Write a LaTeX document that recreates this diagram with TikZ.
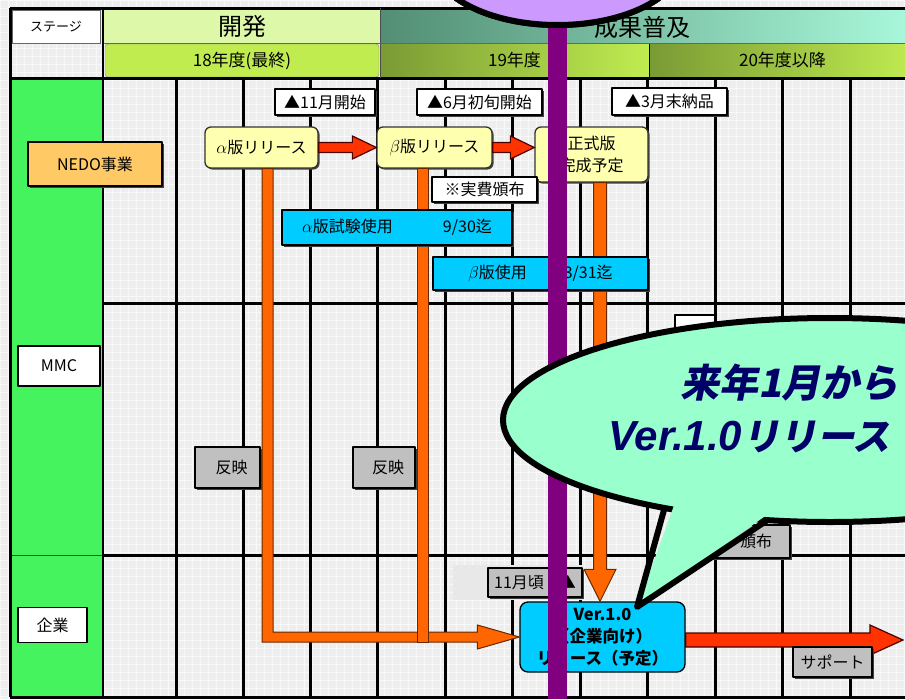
\documentclass[tikz,border=0pt]{standalone}
\usepackage{fontspec}
\setmainfont{Noto Sans CJK JP}
\newfontfamily\jpsl{Noto Sans CJK JP}[FakeSlant=0.2]
\newfontfamily\lsans{Liberation Sans}
\usetikzlibrary{calc,shapes.geometric,shadows}
\definecolor{bgc}{HTML}{EEEEEE}
\definecolor{gridc}{HTML}{F8F8F8}
\definecolor{lgreen}{HTML}{DDF8A8}
\definecolor{ygreen}{HTML}{C0EC50}
\definecolor{olivec}{HTML}{7A9A34}
\definecolor{tealdk}{HTML}{528E74}
\definecolor{mintc}{HTML}{A8F7DA}
\definecolor{colgreen}{HTML}{44F35E}
\definecolor{nedoc}{HTML}{FFC966}
\definecolor{palec}{HTML}{FFFFB0}
\definecolor{cyanc}{HTML}{00CCFF}
\definecolor{orngc}{HTML}{FF6600}
\definecolor{redc}{HTML}{FF3300}
\definecolor{grayc}{HTML}{C0C0C0}
\definecolor{purpc}{HTML}{800080}
\definecolor{lavc}{HTML}{CC99FF}
\definecolor{bubc}{HTML}{99FFCC}
\definecolor{navyc}{HTML}{000068}
\newcommand{\HArrow}[6]{%
  \filldraw[#6] ($#1+(0,-#3)$) -- ($#2+(-#5,-#3)$) -- ($#2+(-#5,-#4)$) -- #2
    -- ($#2+(-#5,#4)$) -- ($#2+(-#5,#3)$) -- ($#1+(0,#3)$) -- cycle;}
\begin{document}
\begin{tikzpicture}[x=1pt,y=-1pt,line join=round,
  f16/.style={font=\fontsize{16}{19}\selectfont},
  shd/.style={drop shadow={shadow xshift=1.5pt,shadow yshift=-1.5pt,fill=black!75,opacity=1}},
  lab/.style={draw=black,line width=1.3pt,inner sep=0pt,f16},
  wlab/.style={lab,fill=white,shd},
  glab/.style={lab,fill=grayc,shd},
  ylab/.style={lab,fill=palec,rounded corners=6pt,draw=black!80,shd},
  clab/.style={lab,fill=cyanc,shd},
  orst/.style={fill=orngc,draw=black!60!orngc,line width=1pt,line join=miter},
  redst/.style={fill=redc,draw=black!70!red,line width=1.2pt,line join=miter},
  gline/.style={line width=3pt,black}]
\useasboundingbox (0,0) rectangle (905,699);
\clip (0,0) rectangle (905,699);
% background
\fill[bgc] (0,0) rectangle (905,699);
\foreach \i in {0,8,...,904} \draw[gridc,line width=0.8pt] (\i,0) -- (\i,699);
\foreach \i in {0,8,...,698} \draw[gridc,line width=0.8pt] (0,\i) -- (905,\i);
% header cells
\node[fill=white,draw=black!60,line width=0.8pt,minimum width=88pt,minimum height=33pt,inner sep=0pt,font=\fontsize{13}{15}\selectfont] (stage) at (56,26.5) {ステージ};
\node[fill=lgreen,minimum width=276pt,minimum height=34pt,inner sep=0pt,font=\fontsize{24}{26}\selectfont] (dev) at (242,26) {開発};
\node[left color=tealdk,right color=mintc,minimum width=525pt,minimum height=34pt,inner sep=0pt,font=\fontsize{24}{26}\selectfont] (fukyu) at (642.5,27) {成果普及};
\node[fill=ygreen,rounded corners=3pt,draw=black!50,minimum width=274pt,minimum height=33pt,inner sep=0pt,font=\fontsize{17}{19}\selectfont] (y18) at (242,60.5) {18年度(最終)};
\node[left color=olivec,right color=ygreen,minimum width=269pt,minimum height=33pt,inner sep=0pt,font=\fontsize{17}{19}\selectfont] (y19) at (514.5,60.5) {19年度};
\node[left color=olivec,right color=ygreen,minimum width=265pt,minimum height=33pt,inner sep=0pt,font=\fontsize{17}{19}\selectfont] (y20) at (782.5,60.5) {20年度以降};
% green column
\fill[colgreen] (10,79) rectangle (103,697);
\draw[line width=0.6pt,green!45!black] (10,555) -- (103,555);
% frame lines
\draw[gline] (10,8) -- (905,8);
\draw[gline] (10,78) -- (905,78);
\draw[gline] (10,8) -- (10,697);
\draw[gline] (10,697) -- (905,697);
\draw[line width=2.5pt] (103,8) -- (103,697);
\draw[line width=1pt,black!70] (380,8) -- (380,78);
\draw[line width=1.5pt] (649.5,44) -- (649.5,78);
\draw[line width=0.8pt,black!60] (104,43.5) -- (905,43.5);
\foreach \xx in {176,243,310,377.5,445,512.5,580,647.5,715,782.5,850}
  \draw[gline] (\xx,78) -- (\xx,697);
\foreach \yy in {303,555} \draw[gline] (103,\yy) -- (905,\yy);
% row labels
\node[lab,fill=nedoc,minimum width=134pt,minimum height=44pt,shd] (nedo) at (95,164) {NEDO事業};
\node[lab,fill=white,minimum width=82pt,minimum height=40pt] (mmc) at (59,366) {MMC};
\node[lab,fill=white,minimum width=69pt,minimum height=35pt] (kigyo) at (52.5,625) {企業};
% milestone labels
\node[wlab,minimum width=100pt,minimum height=26pt] (l11) at (325,102) {▲11月開始};
\node[wlab,minimum width=125pt,minimum height=26pt] (l6) at (479.5,102) {▲6月初旬開始};
\node[wlab,minimum width=115pt,minimum height=27pt] (l3) at (669.5,101.5) {▲3月末納品};
% release boxes
\node[ylab,minimum width=113pt,minimum height=41pt] (alpha) at (261.5,147.5) {$\alpha$版リリース};
\node[ylab,minimum width=115pt,minimum height=41pt] (beta) at (434.5,147.5) {$\beta$版リリース};
\node[ylab,minimum width=113pt,minimum height=55pt,align=center,font=\fontsize{16}{22}\selectfont] (official) at (591.5,154.5) {正式版\\完成予定};
\node[wlab,minimum width=105pt,minimum height=25pt] (jippi) at (484.5,189.5) {※実費頒布};
% enterprise row boxes
\fill[black!9] (453,565) rectangle (583,600);
\node[glab,minimum width=94pt,minimum height=29pt] (koro) at (535,582.5) {11月頃\hspace{16pt}▲};
\node[lab,fill=cyanc,rounded corners=8pt,minimum width=165pt,minimum height=70pt,align=center,font=\fontsize{16.5}{22}\selectfont\bfseries] (ver) at (602.5,637) {Ver.1.0\\（企業向け）\\リリース（予定）};
% orange flows
\coordinate (acorner) at (alpha.south |- ver.west);
\filldraw[orst] ($(alpha.south)+(0.5,0)$) -- ($(acorner)+(0.5,5)$) -- ($(ver.west)+(-42,5)$)
  -- ($(ver.west)+(-42,12)$) -- (ver.west) -- ($(ver.west)+(-42,-12)$)
  -- ($(ver.west)+(-42,-5)$) -- ($(acorner)+(11.5,-5)$) -- ($(alpha.south)+(11.5,0)$) -- cycle;
\coordinate (bcorner) at (beta.south |- ver.west);
\filldraw[orst] ($(beta.south)+(-17.5,0)$) rectangle ($(bcorner)+(-6.5,5)$);
\coordinate (vtip) at ($(official.south |- ver.north)+(8.5,0)$);
\filldraw[orst] ($(official.south)+(2,0)$) -- ($(vtip)+(-6.5,-32)$) -- ($(vtip)+(-16,-32)$) -- (vtip)
  -- ($(vtip)+(16,-32)$) -- ($(vtip)+(6.5,-32)$) -- ($(official.south)+(15,0)$) -- cycle;
% usage bars
\node[clab,minimum width=230pt,minimum height=35pt] (atest) at (397,227.5) {$\alpha$版試験使用\hspace{50pt}9/30迄};
\node[clab,minimum width=215pt,minimum height=33pt] (buse) at (540.5,273.5) {$\beta$版使用\hspace{37pt}3/31迄};
% reflection boxes
\node[glab,minimum width=65pt,minimum height=41pt] (hanei1) at (227.5,467.5) {\hspace{8pt}反映};
\node[glab,minimum width=62pt,minimum height=41pt] (hanei2) at (384,467.5) {\hspace{8pt}反映};
% red arrows
\coordinate (t2) at (official.west |- beta.east);
\HArrow{(alpha.east)}{(beta.west)}{5}{11.5}{24}{redst}
\HArrow{(beta.east)}{(t2)}{5}{11.5}{24}{redst}
\coordinate (rtip) at (903,640);
\coordinate (rstart) at (ver.east |- rtip);
\HArrow{(rstart)}{(rtip)}{7}{15}{33}{redst}
\node[glab,minimum width=79pt,minimum height=30pt] (support) at (832.5,662) {サポート};
\node[glab,minimum width=100pt,minimum height=33pt] (hanpu) at (740,541.5) {\hspace{32pt}頒布};
\node[lab,fill=white,minimum width=40pt,minimum height=40pt] (hidden) at (695,335) {};
% purple bar and top bubble
\coordinate (pend) at (557.5,699);
\node[ellipse,draw=black,line width=6pt,fill=lavc,minimum width=250pt,minimum height=130pt,outer sep=0pt,inner sep=0pt] (topb) at (557.5,-40) {};
\draw[purpc,line width=19pt] (topb.south) -- (pend);
\node[ellipse,draw=black,line width=6pt,fill=lavc,minimum width=250pt,minimum height=130pt,outer sep=0pt,inner sep=0pt] (topb2) at (topb) {};
% speech bubble
\node[ellipse,draw=black,line width=6pt,fill=bubc,minimum width=654pt,minimum height=204pt,outer sep=0pt,inner sep=0pt] (bub) at (830,420) {};
\coordinate (btip) at (637,607);
\fill[bubc] ($(bub.208)!12pt!(bub.center)$) -- (btip) -- ($(bub.238)!12pt!(bub.center)$) -- cycle;
\draw[line width=6pt,line join=round] (bub.208) -- (btip) -- (bub.238);
\node[anchor=west,text=navyc,inner sep=0pt,font=\jpsl\bfseries\fontsize{39}{42}\selectfont] (bt1) at (680,383) {来年1月から};
\node[anchor=west,text=navyc,inner sep=0pt,font=\jpsl\bfseries\fontsize{37.5}{42}\selectfont] (bt2) at (608,437) {{\lsans\bfseries\itshape\fontsize{42}{44}\selectfont Ver.1.0}リリース};
\end{tikzpicture}
\end{document}
